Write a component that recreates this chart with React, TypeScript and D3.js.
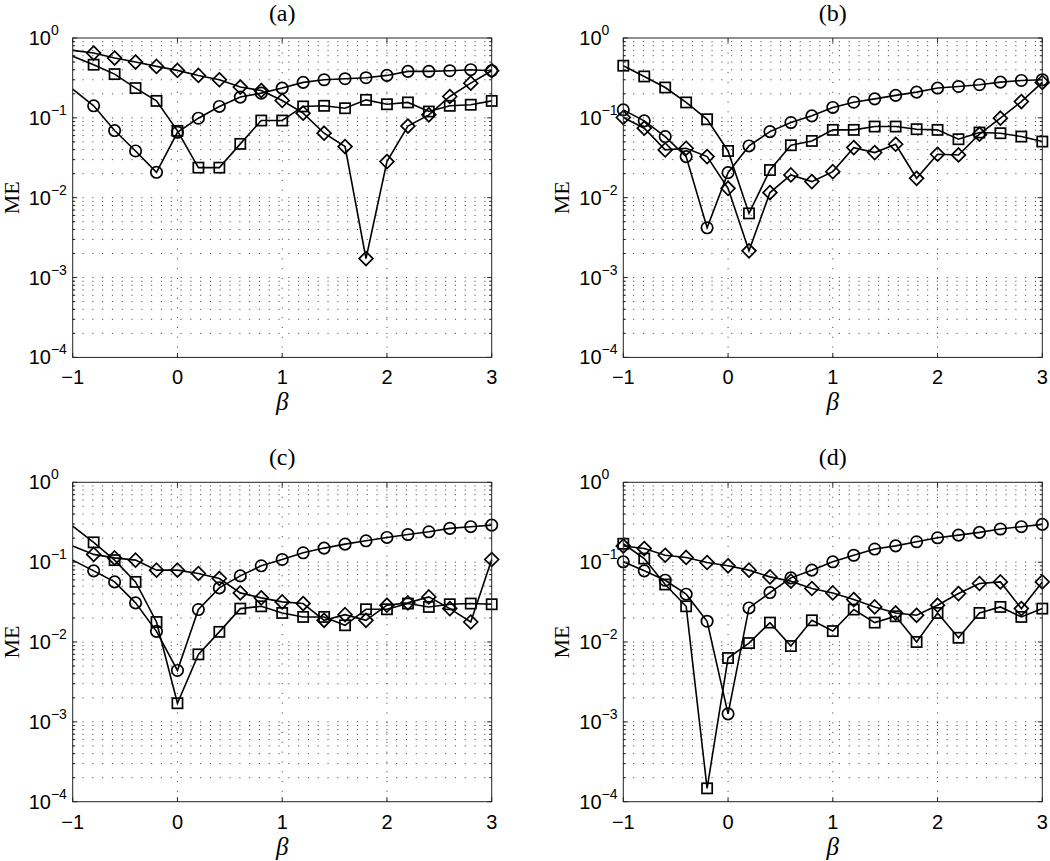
import React from 'react';
import * as d3 from 'd3';

// ---------- data ----------
const BETA = [-1, -0.8, -0.6, -0.4, -0.2, 0, 0.2, 0.4, 0.6, 0.8, 1, 1.2, 1.4, 1.6, 1.8, 2, 2.2, 2.4, 2.6, 2.8, 3];

const A_CIRCLE = [0.229, 0.1415, 0.0693, 0.0385, 0.0208, 0.066, 0.099, 0.139, 0.182, 0.204, 0.236, 0.278, 0.3, 0.309, 0.318, 0.34, 0.382, 0.382, 0.389, 0.401, 0.389];
const A_SQUARE = [0.589, 0.463, 0.353, 0.236, 0.163, 0.0687, 0.0238, 0.0238, 0.0472, 0.0926, 0.0926, 0.139, 0.1415, 0.132, 0.168, 0.148, 0.156, 0.12, 0.1415, 0.146, 0.163];
const A_DIAMOND = [0.7, 0.648, 0.561, 0.5, 0.441, 0.393, 0.34, 0.3, 0.243, 0.22, 0.165, 0.1145, 0.0642, 0.0437, 0.00173, 0.0283, 0.079, 0.109, 0.185, 0.272, 0.389];

const B_CIRCLE = [0.126, 0.0917, 0.0583, 0.0327, 0.0042, 0.0206, 0.0445, 0.0673, 0.0874, 0.106, 0.135, 0.157, 0.173, 0.191, 0.21, 0.236, 0.247, 0.26, 0.28, 0.294, 0.3];
const B_SQUARE = [0.45, 0.33, 0.24, 0.156, 0.096, 0.0385, 0.00636, 0.0222, 0.0454, 0.0514, 0.0707, 0.0707, 0.0778, 0.0778, 0.0721, 0.0707, 0.054, 0.0655, 0.0642, 0.0583, 0.0505];
const B_DIAMOND = [0.101, 0.0742, 0.0397, 0.0416, 0.0327, 0.0131, 0.00216, 0.0116, 0.0193, 0.0159, 0.0212, 0.0424, 0.0367, 0.0467, 0.0175, 0.035, 0.0343, 0.0624, 0.099, 0.16, 0.278];

const C_CIRCLE = [0.106, 0.0778, 0.0566, 0.0309, 0.0136, 0.0044, 0.0255, 0.0476, 0.0673, 0.09, 0.108, 0.131, 0.15, 0.168, 0.185, 0.204, 0.222, 0.24, 0.265, 0.278, 0.291];
const C_SQUARE = [0.283, 0.177, 0.106, 0.0566, 0.0178, 0.00171, 0.007, 0.0134, 0.0262, 0.028, 0.0231, 0.0206, 0.0206, 0.0162, 0.0257, 0.0257, 0.0303, 0.0275, 0.0297, 0.0303, 0.0297];
const C_DIAMOND = [0.159, 0.125, 0.113, 0.106, 0.0794, 0.0794, 0.0721, 0.0624, 0.0412, 0.0357, 0.0318, 0.0303, 0.0187, 0.022, 0.0187, 0.0289, 0.0309, 0.0367, 0.0262, 0.0178, 0.108];

const D_CIRCLE = [0.101, 0.0778, 0.0594, 0.0397, 0.0182, 0.00126, 0.0267, 0.0416, 0.0636, 0.0794, 0.101, 0.122, 0.146, 0.16, 0.18, 0.202, 0.218, 0.236, 0.26, 0.278, 0.297];
const D_SQUARE = [0.17, 0.111, 0.0525, 0.028, 0.000147, 0.0063, 0.0097, 0.0175, 0.0089, 0.0187, 0.0137, 0.0255, 0.0175, 0.021, 0.01, 0.0231, 0.0113, 0.0231, 0.0275, 0.0206, 0.0262];
const D_DIAMOND = [0.159, 0.148, 0.122, 0.1145, 0.099, 0.09, 0.0794, 0.0654, 0.0578, 0.0468, 0.0412, 0.034, 0.0275, 0.0231, 0.0216, 0.0289, 0.0404, 0.054, 0.0566, 0.0262, 0.0566];

const X_TICKS = [-1, 0, 1, 2, 3];
const X_TICK_LABELS = ['\u22121', '0', '1', '2', '3'];
const Y_DECADES = [1, 0.1, 0.01, 0.001, 0.0001];
const Y_EXPONENTS = ['0', '\u22121', '\u22122', '\u22123', '\u22124'];
const TITLES = ['(a)', '(b)', '(c)', '(d)'];
const X_LABEL = '\u03B2';
const Y_LABEL = 'ME';

// ---------- layout ----------
const W = 419;
const H = 319.4;
const LEFTS = [72.7, 623.3];
const TOPS = [38, 482.3];
const SANS = "'Liberation Sans', Arial, Helvetica, sans-serif";
const SERIF = "'Liberation Serif', 'Times New Roman', serif";

type PanelProps = {
  x0: number; y0: number; title: string;
  circle: number[]; square: number[]; diamond: number[];
  firstMarker: boolean;
};

function Panel({ x0, y0, title, circle, square, diamond, firstMarker }: PanelProps) {
  const xs = d3.scaleLinear().domain([-1, 3]).range([x0, x0 + W]);
  const ys = d3.scaleLog().domain([1e-4, 1]).range([y0 + H, y0]);
  const line = d3.line<number>().x((_, i) => xs(BETA[i])).y((d) => ys(d));

  const minor: number[] = [];
  [1e-4, 1e-3, 1e-2, 1e-1].forEach((d) => {
    for (let k = 2; k <= 9; k++) minor.push(d * k);
  });
  const hGrid = minor.concat([1e-3, 1e-2, 1e-1]);

  const start = firstMarker ? 0 : 1;
  const idx = BETA.map((_, i) => i).filter((i) => i >= start);

  const r = 5.7;   // circle
  const s = 5.1;   // square half
  const dm = 6.9;  // diamond half diag

  return (
    <g>
      {/* grid */}
      <g stroke="#333" strokeWidth={0.9} strokeDasharray="1.1 8.7" fill="none">
        {hGrid.map((v, i) => (
          <line key={'h' + i} x1={x0} x2={x0 + W} y1={ys(v)} y2={ys(v)} />
        ))}
        {X_TICKS.slice(1, -1).map((v, i) => (
          <line key={'v' + i} x1={xs(v)} x2={xs(v)} y1={y0 + H} y2={y0} />
        ))}
      </g>
      {/* series */}
      <g fill="none" stroke="#000" strokeWidth={1.6} strokeLinejoin="miter">
        <path d={line(circle) || ''} />
        <path d={line(square) || ''} />
        <path d={line(diamond) || ''} />
        {idx.map((i) => (
          <circle key={'c' + i} cx={xs(BETA[i])} cy={ys(circle[i])} r={r} strokeWidth={1.7} />
        ))}
        {idx.map((i) => (
          <rect key={'s' + i} x={xs(BETA[i]) - s} y={ys(square[i]) - s} width={2 * s} height={2 * s} strokeWidth={1.7} />
        ))}
        {idx.map((i) => {
          const cx = xs(BETA[i]);
          const cy = ys(diamond[i]);
          return (
            <path key={'d' + i} strokeWidth={1.7}
              d={`M${cx},${cy - dm}L${cx + dm},${cy}L${cx},${cy + dm}L${cx - dm},${cy}Z`} />
          );
        })}
      </g>
      {/* axes box and ticks */}
      <g stroke="#222" strokeWidth={1} fill="none">
        <rect x={x0} y={y0} width={W} height={H} />
        {X_TICKS.map((v, i) => (
          <g key={'xt' + i}>
            <line x1={xs(v)} x2={xs(v)} y1={y0 + H} y2={y0 + H - 4.5} />
            <line x1={xs(v)} x2={xs(v)} y1={y0} y2={y0 + 4.5} />
          </g>
        ))}
        {Y_DECADES.map((v, i) => (
          <g key={'yt' + i}>
            <line x1={x0} x2={x0 + 4.5} y1={ys(v)} y2={ys(v)} />
            <line x1={x0 + W} x2={x0 + W - 4.5} y1={ys(v)} y2={ys(v)} />
          </g>
        ))}
        {minor.map((v, i) => (
          <g key={'ym' + i}>
            <line x1={x0} x2={x0 + 2.5} y1={ys(v)} y2={ys(v)} />
            <line x1={x0 + W} x2={x0 + W - 2.5} y1={ys(v)} y2={ys(v)} />
          </g>
        ))}
      </g>
      {/* tick labels */}
      <g fontFamily={SANS} fontSize={20} fill="#000">
        {X_TICKS.map((v, i) => (
          <text key={'xl' + i} x={xs(v)} y={y0 + H + 27} textAnchor="middle">{X_TICK_LABELS[i]}</text>
        ))}
        {Y_DECADES.map((v, i) => (
          <text key={'yl' + i} x={x0 - 44} y={ys(v) + 7}>
            10<tspan dy={-10} fontSize={14}>{Y_EXPONENTS[i]}</tspan>
          </text>
        ))}
      </g>
      {/* titles and labels */}
      <text x={x0 + W / 2} y={y0 - 17} textAnchor="middle" fontFamily={SERIF} fontSize={24}>{title}</text>
      <text x={x0 + W / 2} y={y0 + H + 53} textAnchor="middle" fontFamily={SERIF} fontStyle="italic" fontSize={25}>{X_LABEL}</text>
      <text transform={`translate(${x0 - 54},${y0 + H / 2}) rotate(-90)`} textAnchor="middle" fontFamily={SERIF} fontSize={22}>{Y_LABEL}</text>
    </g>
  );
}

export default function App() {
  const panels = [
    { circle: A_CIRCLE, square: A_SQUARE, diamond: A_DIAMOND, firstMarker: false },
    { circle: B_CIRCLE, square: B_SQUARE, diamond: B_DIAMOND, firstMarker: true },
    { circle: C_CIRCLE, square: C_SQUARE, diamond: C_DIAMOND, firstMarker: false },
    { circle: D_CIRCLE, square: D_SQUARE, diamond: D_DIAMOND, firstMarker: true },
  ];
  return (
    <svg width={1050} height={861} style={{ position: 'absolute', left: 0, top: 0, background: '#fff' }}>
      <rect width={1050} height={861} fill="#fff" />
      {panels.map((p, i) => (
        <Panel key={i} x0={LEFTS[i % 2]} y0={TOPS[Math.floor(i / 2)]} title={TITLES[i]} {...p} />
      ))}
    </svg>
  );
}
